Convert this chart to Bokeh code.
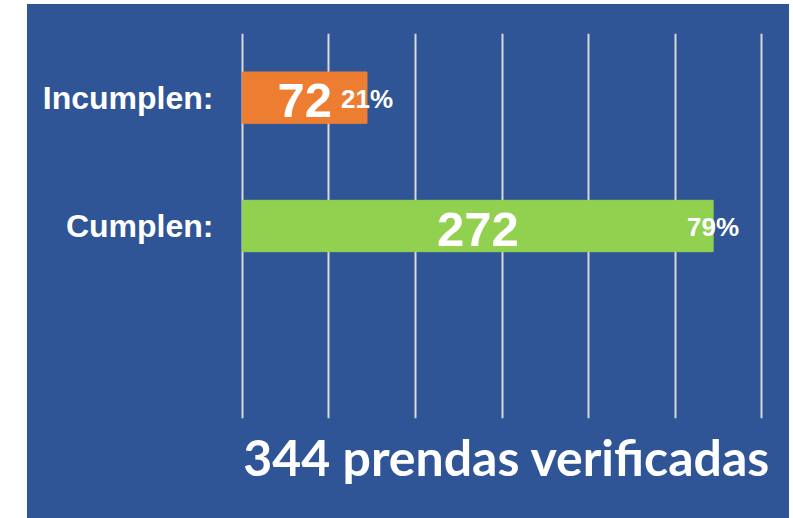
from bokeh.plotting import figure
from bokeh.models import Range1d, ColumnDataSource, Spacer, FixedTicker, Title
from bokeh.layouts import row, column
from bokeh.core.properties import value
from bokeh.embed import file_html
from bokeh.resources import INLINE

categories = ["Incumplen:", "Cumplen:"]
counts = [72, 272]
percents = ["21%", "79%"]
colors = ["#ED7D31", "#92D050"]
total_label = "344 prendas verificadas"

BLUE = "#2F5597"
pos = [1, 2]

src = ColumnDataSource(dict(
    y=pos, right=counts, mid=[c / 2 for c in counts],
    count_txt=[str(c) for c in counts], pct=percents, color=colors,
))

p = figure(frame_width=523, frame_height=385, output_backend="svg", toolbar_location=None,
           x_range=Range1d(-1.1, 301.1), y_range=Range1d(3.5, 0.5),
           min_border_left=213, min_border_right=26, min_border_top=29,
           min_border_bottom=100)
p.background_fill_color = BLUE
p.border_fill_color = BLUE
p.outline_line_color = None
p.styles = {"background-color": BLUE}

p.hbar(y="y", left=0, right="right", height=0.4, color="color", source=src)
p.text(x="mid", y="y", text="count_txt", source=src, text_align="center",
       text_baseline="middle", text_color="white", text_font=value("Liberation Sans"),
       text_font_style="bold", text_font_size="49px", y_offset=3)
p.text(x="right", y="y", text="pct", source=src, text_align="center",
       text_baseline="middle", text_color="white", text_font=value("Liberation Sans"),
       text_font_style="bold", text_font_size="26px", y_offset=1)

p.xgrid.ticker = FixedTicker(ticks=[0, 50, 100, 150, 200, 250, 300])
p.xgrid.grid_line_color = "#D9D9D9"
p.xgrid.grid_line_width = 2
p.ygrid.grid_line_color = None

p.xaxis.visible = False
yax = p.yaxis[0]
yax.ticker = FixedTicker(ticks=pos)
yax.major_label_overrides = {1: categories[0], 2: categories[1]}
yax.axis_line_color = None
yax.major_tick_line_color = None
yax.minor_tick_line_color = None
yax.major_tick_in = 0
yax.major_tick_out = 0
yax.major_label_standoff = 27
yax.major_label_text_color = "white"
yax.major_label_text_font = "Liberation Sans"
yax.major_label_text_font_style = "bold"
yax.major_label_text_font_size = "32px"

t = Title(text=total_label, align="right", text_color="white", text_font="Lato",
          text_font_style="bold", text_font_size="50px", standoff=12, offset=-7)
p.add_layout(t, "below")

layout = column(Spacer(width=10, height=4), row(Spacer(width=27, height=10), p))
open("out.html", "w").write(file_html(layout, INLINE))
